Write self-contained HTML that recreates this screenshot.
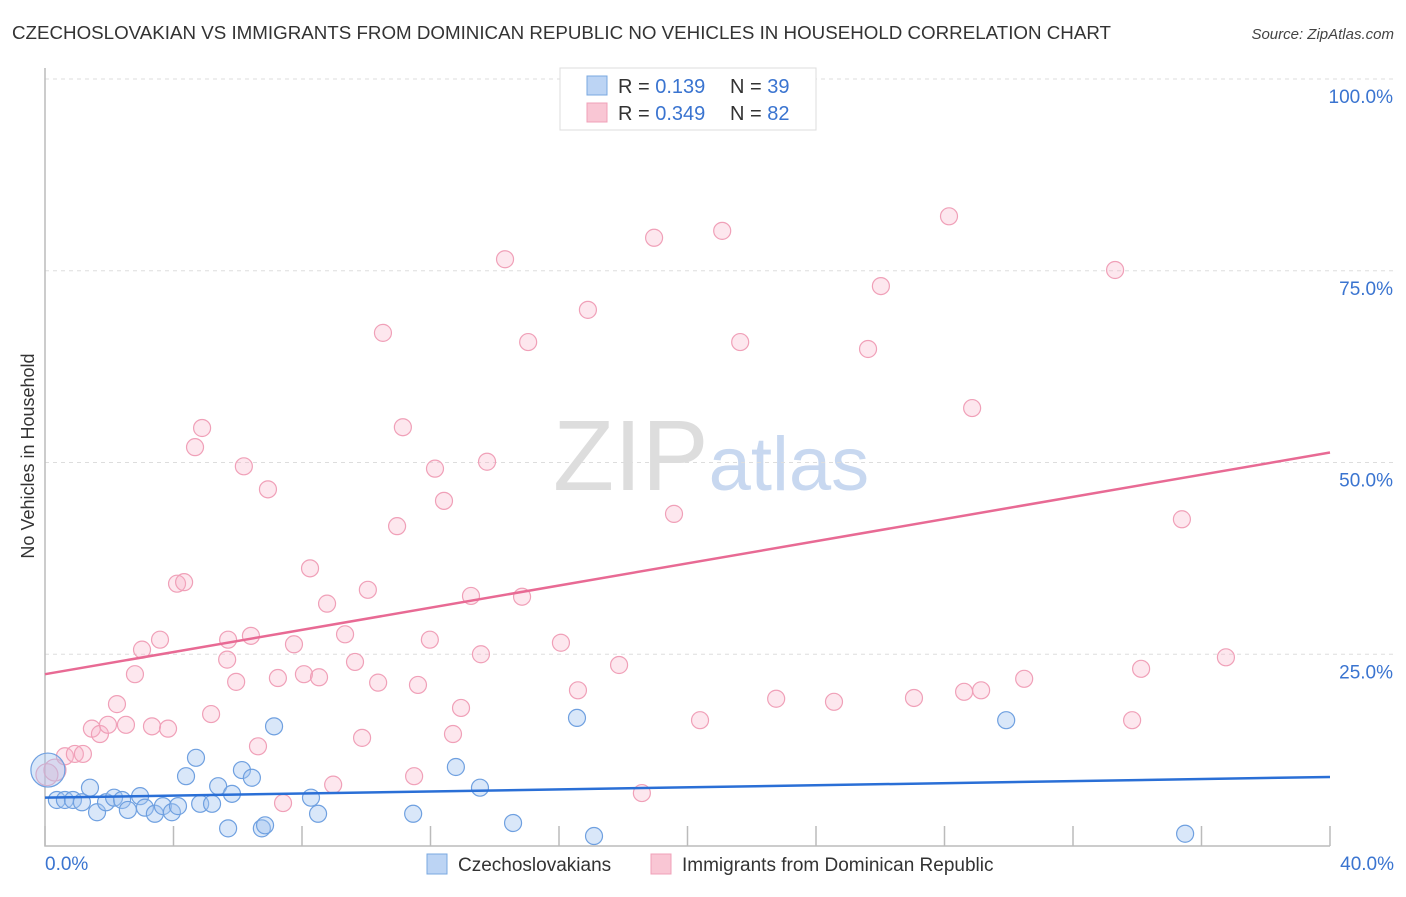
<!DOCTYPE html>
<html><head><meta charset="utf-8">
<style>
body{margin:0;background:#fff;font-family:"Liberation Sans",sans-serif;}
svg text{font-family:"Liberation Sans",sans-serif;}
</style></head>
<body>
<svg id="chart" width="1406" height="892" xmlns="http://www.w3.org/2000/svg">
<text x="12" y="39" font-size="18" fill="#333" textLength="1099" lengthAdjust="spacingAndGlyphs">CZECHOSLOVAKIAN VS IMMIGRANTS FROM DOMINICAN REPUBLIC NO VEHICLES IN HOUSEHOLD CORRELATION CHART</text>
<text x="1394" y="39" font-size="15" fill="#444" font-style="italic" text-anchor="end">Source: ZipAtlas.com</text>
<text x="553" y="490" font-size="100" fill="#ddd" font-family="Liberation Serif">ZIP<tspan fill="#c8d8f0" font-family="Liberation Sans" font-size="76">atlas</tspan></text>
<text transform="translate(34,456) rotate(-90)" font-size="18" fill="#333" text-anchor="middle">No Vehicles in Household</text>
<g id="grid"></g>
<g id="marks"></g>
<g>
<rect x="560" y="68" width="256" height="62" fill="#fff" stroke="#ddd"/>
<rect x="587" y="76" width="20" height="19" fill="#bcd4f4" stroke="#7aa8e0"/>
<rect x="587" y="103" width="20" height="19" fill="#f9c6d4" stroke="#f0a0b8"/>
<text x="618" y="93" font-size="20" fill="#333">R = <tspan fill="#3a74d0"> 0.139</tspan></text>
<text x="730" y="93" font-size="20" fill="#333">N = <tspan fill="#3a74d0">39</tspan></text>
<text x="618" y="120" font-size="20" fill="#333">R = <tspan fill="#3a74d0">0.349</tspan></text>
<text x="730" y="120" font-size="20" fill="#333">N = <tspan fill="#3a74d0">82</tspan></text>
</g>
<g>
<rect x="427" y="854" width="20" height="20" fill="#bcd4f4" stroke="#7aa8e0"/>
<text x="458" y="871" font-size="19" fill="#333">Czechoslovakians</text>
<rect x="651" y="854" width="20" height="20" fill="#f9c6d4" stroke="#f0a0b8"/>
<text x="682" y="871" font-size="19" fill="#333">Immigrants from Dominican Republic</text>
</g>
</svg>
<script>
const xTicks=[0,4,8,12,16,20,24,28,32,36,40];
const yTicks=[25,50,75,100];
const yTickLabels=["25.0%","50.0%","75.0%","100.0%"];
const blueX=[0.09,0.37,0.62,0.87,1.15,1.40,1.62,1.90,2.15,2.40,2.58,2.96,3.11,3.42,3.67,3.95,4.14,4.39,4.70,4.83,5.20,5.39,5.70,5.82,6.13,6.44,6.75,6.85,7.13,8.28,8.50,11.46,12.79,13.54,14.57,16.56,17.09,29.92,35.49];
const blueY=[9.9,6.0,6.0,6.0,5.7,7.6,4.4,5.7,6.3,6.0,4.7,6.5,5.0,4.2,5.2,4.4,5.2,9.1,11.5,5.5,5.5,7.8,2.3,6.8,9.9,8.9,2.3,2.7,15.6,6.3,4.2,4.2,10.3,7.6,3.0,16.7,1.3,16.4,1.6];
const pinkX=[0.06,0.31,0.62,0.93,1.18,1.46,1.71,1.96,2.24,2.52,2.80,3.02,3.33,3.58,3.83,4.11,4.33,4.67,4.89,5.17,5.67,5.70,5.95,6.19,6.41,6.63,6.94,7.25,7.41,7.75,8.06,8.25,8.53,8.78,8.97,9.34,9.65,9.87,10.05,10.37,10.52,10.96,11.14,11.49,11.61,11.98,12.14,12.42,12.70,12.95,13.26,13.57,13.76,14.32,14.85,15.04,16.06,16.59,16.90,17.87,18.58,18.96,19.58,20.39,21.08,21.64,22.76,24.56,25.62,26.02,27.05,28.14,28.61,28.86,29.14,30.48,33.31,33.84,34.12,35.39,36.76];
const pinkY=[9.3,9.9,11.7,12.0,12.0,15.3,14.6,15.8,18.5,15.8,22.4,25.6,15.6,26.9,15.3,34.2,34.4,52.0,54.5,17.2,24.3,26.9,21.4,49.5,27.4,13.0,46.5,21.9,5.6,26.3,22.4,36.2,22.0,31.6,8.0,27.6,24.0,14.1,33.4,21.3,66.9,41.7,54.6,9.1,21.0,26.9,49.2,45.0,14.6,18.0,32.6,25.0,50.1,76.5,32.5,65.7,26.5,20.3,69.9,23.6,6.9,79.3,43.3,16.4,80.2,65.7,19.2,18.8,64.8,73.0,19.3,82.1,20.1,57.1,20.3,21.8,75.1,16.4,23.1,42.6,24.6];
const blueTrend=[6.3,9.0];
const pinkTrend=[22.4,51.3];
const NS="http://www.w3.org/2000/svg";
const X=v=>45+v/40*1285;
const Y=v=>846-v/100*767;
function mk(t,a,p){const e=document.createElementNS(NS,t);for(const k in a)e.setAttribute(k,a[k]);p.appendChild(e);return e;}
const grid=document.getElementById('grid'),marks=document.getElementById('marks');
yTicks.forEach((t,i)=>{
 const l=mk('line',{x1:45,x2:1394,y1:Y(t),y2:Y(t),stroke:'#ddd','stroke-dasharray':'4,4'},grid);
 
 
 const tx=mk('text',{x:1393,y:Y(t)+24,'font-size':19,fill:'#3a74d0','text-anchor':'end'},grid);
 tx.textContent=yTickLabels[i];
 
 
});
const ax=mk('path',{d:'M45,68V846H1330',fill:'none',stroke:'#bbb','stroke-width':1.5},grid);


xTicks.forEach(t=>{
 const l=mk('line',{x1:X(t),x2:X(t),y1:826,y2:846,stroke:'#bbb','stroke-width':1.5},grid);
 
 
});
[[0,'0.0%',45,'start'],[40,'40.0%',1394,'end']].forEach(d=>{
 const tx=mk('text',{x:d[2],y:870,'font-size':19,fill:'#3a74d0','text-anchor':d[3]},grid);
 tx.textContent=d[1];
 
 
});
pinkX.forEach((x,i)=>{
 const c=mk('circle',{cx:X(x),cy:Y(pinkY[i]),r:i<2?11:8.5,fill:'rgba(248,175,198,0.3)',stroke:'#f0a0b8','stroke-width':1.2},marks);
 
 
});
blueX.forEach((x,i)=>{
 const c=mk('circle',{cx:X(x),cy:Y(blueY[i]),r:i==0?17:8.5,fill:'rgba(160,196,240,0.4)',stroke:'#6fa0e0','stroke-width':1.2},marks);
 
 
});
const pl=mk('line',{x1:X(0),x2:X(40),y1:Y(pinkTrend[0]),y2:Y(pinkTrend[1]),stroke:'#e86a94','stroke-width':2.5},marks);


const bl=mk('line',{x1:X(0),x2:X(40),y1:Y(blueTrend[0]),y2:Y(blueTrend[1]),stroke:'#2a6fd6','stroke-width':2.5},marks);


</script>
</body></html>
